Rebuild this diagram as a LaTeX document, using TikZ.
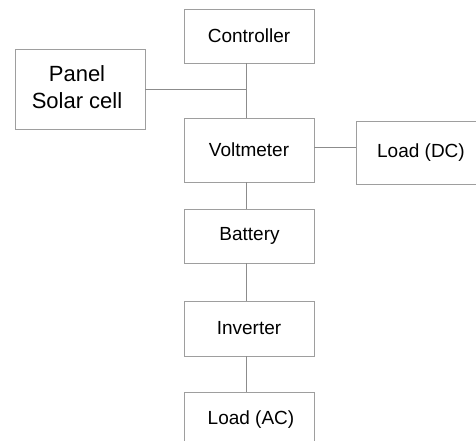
\documentclass[tikz,border=0pt]{standalone}
\usepackage{fontspec}
\setmainfont{Liberation Sans}
\begin{document}
\begin{tikzpicture}[x=1pt,y=-1pt,
  blk/.style={draw=black!38,line width=0.9pt,minimum width=130pt,inner sep=0pt,font=\fontsize{19}{22}\selectfont},
  wire/.style={draw=black!45,line width=0.9pt}]
\clip (0,0) rectangle (476,441);
\useasboundingbox (0,0) rectangle (476,441);
\fill[white] (0,0) rectangle (476,441);
\node[blk,minimum height=54pt] (ctrl) at (249,36) {Controller};
\node[blk,minimum height=80pt] (panel) at (80,89) {};
\node[align=center,font=\fontsize{22}{27}\selectfont,inner sep=0pt] (ptext) at (77,87) {Panel\\Solar cell};
\node[blk,minimum height=64pt] (volt) at (249,150) {Voltmeter};
\node[blk,minimum height=63pt] (ldc) at (421,152.5) {Load (DC)};
\node[blk,minimum height=54pt] (bat) at (249.5,236) {Battery};
\node[blk,minimum height=55pt] (inv) at (249,328.5) {Inverter};
\node[blk,minimum height=56pt] (lac) at (249,420) {\hspace*{4pt}Load (AC)};
\coordinate (j) at (246,89);
\coordinate (k) at (246,0);
\coordinate (m) at (0,147);
\draw[wire] (ctrl.south -| k) -- (volt.north -| k);
\draw[wire] (panel.east |- j) -- (j);
\draw[wire] (volt.east |- m) -- (ldc.west |- m);
\draw[wire] (volt.south -| k) -- (bat.north -| k);
\draw[wire] (bat.south -| k) -- (inv.north -| k);
\draw[wire] (inv.south -| k) -- (lac.north -| k);
\end{tikzpicture}
\end{document}
